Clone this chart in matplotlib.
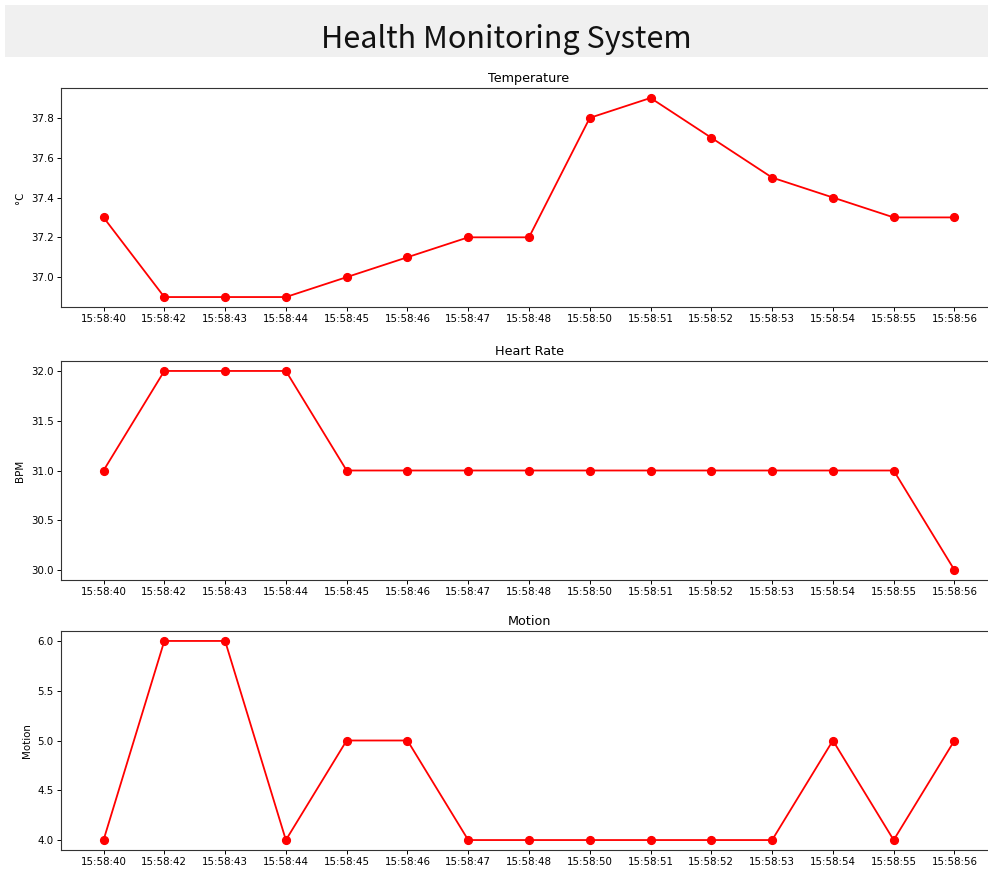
import matplotlib
matplotlib.use("Agg")
import matplotlib.pyplot as plt
from matplotlib.patches import Rectangle
from matplotlib.ticker import MultipleLocator

times = ["15:58:40", "15:58:42", "15:58:43", "15:58:44", "15:58:45", "15:58:46",
         "15:58:47", "15:58:48", "15:58:50", "15:58:51", "15:58:52", "15:58:53",
         "15:58:54", "15:58:55", "15:58:56"]
temperature = [37.3, 36.9, 36.9, 36.9, 37.0, 37.1, 37.2, 37.2, 37.8, 37.9, 37.7, 37.5, 37.4, 37.3, 37.3]
heart_rate = [31, 32, 32, 32, 31, 31, 31, 31, 31, 31, 31, 31, 31, 31, 30]
motion = [4, 6, 6, 4, 5, 5, 4, 4, 4, 4, 4, 4, 5, 4, 5]

panels = [
    ("Temperature", "°C", temperature, 0.2),
    ("Heart Rate", "BPM", heart_rate, 0.5),
    ("Motion", "Motion", motion, 0.5),
]

W, H = 988, 871
fig = plt.figure(figsize=(W / 100, H / 100), dpi=100)

# title banner
fig.patches.append(Rectangle((5 / W, 1 - 57 / H), (W - 5) / W, 52 / H,
                             transform=fig.transFigure, facecolor="#f0f0f0",
                             edgecolor="none", zorder=0))
fig.text(506 / W, 1 - 48 / H, "Health Monitoring System",
         family=["Noto Sans CJK KR", "DejaVu Sans"], fontsize=22, fontweight="light",
         ha="center", va="baseline", color="#111111")

tops = [88, 361, 631]
ax_h = 219
left = 61
width = 936

for (title, ylabel, vals, step), top in zip(panels, tops):
    ax = fig.add_axes([left / W, 1 - (top + ax_h) / H, width / W, ax_h / H])
    ax.plot(times, vals, color="red", marker="o", markersize=5.6, linewidth=1.3)
    ax.set_title(title, fontsize=9.2, pad=4.5)
    ax.set_ylabel(ylabel, fontsize=7.4, labelpad=4)
    ax.yaxis.set_major_locator(MultipleLocator(step))
    ax.tick_params(labelsize=7.4, length=2.6, width=0.7, pad=2.6)
    for s in ax.spines.values():
        s.set_linewidth(0.8)
        s.set_color("#333333")

fig.savefig("out.png", dpi=100)
